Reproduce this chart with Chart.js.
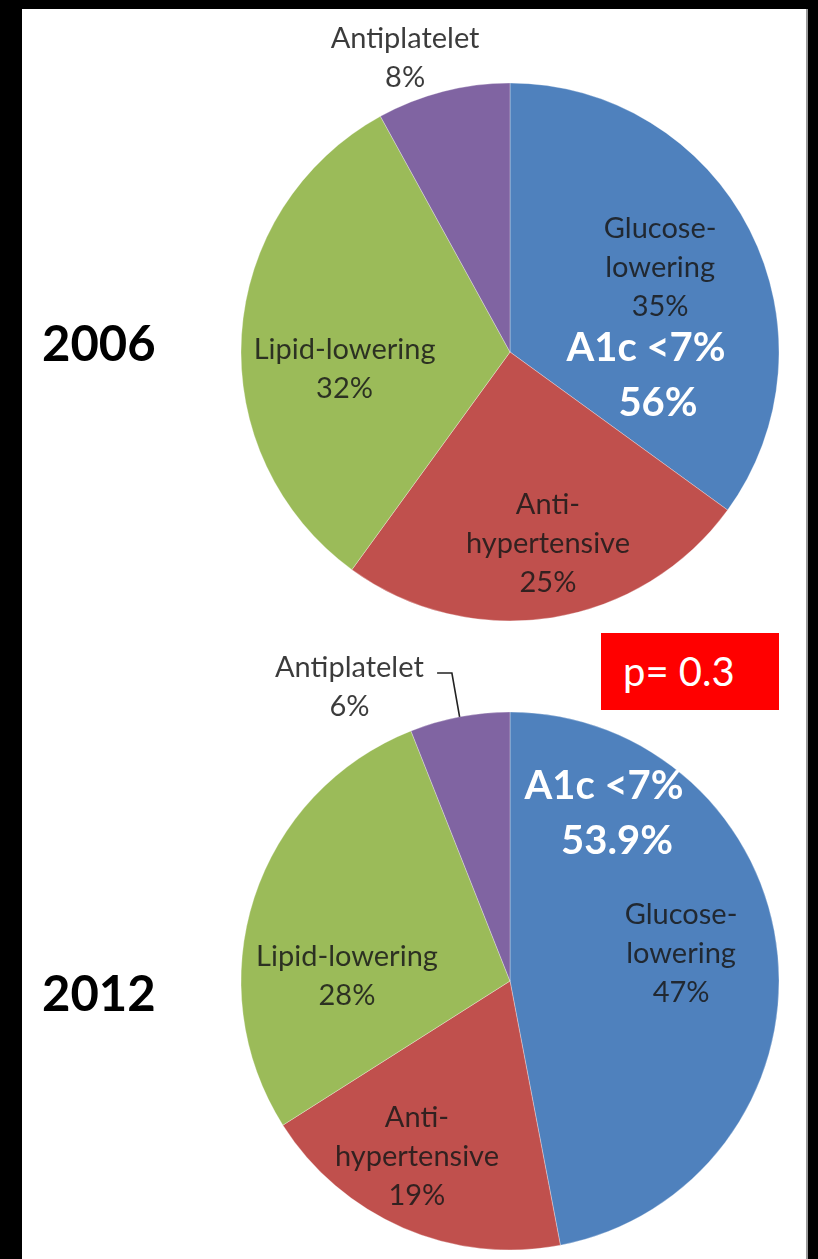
<!DOCTYPE html>
<html>
<head>
<meta charset="utf-8">
<script src="https://cdn.jsdelivr.net/npm/chart.js@4.4.0/dist/chart.umd.min.js"></script>
<style>
html,body{margin:0;padding:0;background:#000;width:818px;height:1259px;overflow:hidden;font-family:Lato,sans-serif}
#panel{position:absolute;left:22px;top:9px;width:784px;height:1250px;background:#fff;border-right:2px solid #9a9a9a}
canvas{position:absolute;left:0}
#c1{top:0}
#c2{top:630px}
.year{position:absolute;left:42px;font:bold 49px Lato;line-height:49px;color:#000;margin:0}
#pbox{position:absolute;left:601px;top:633px;width:178px;height:77px;background:#ff0000;color:#fff;font:40px Lato;line-height:77px;box-sizing:border-box;padding-left:22px;white-space:pre}
</style>
</head>
<body>
<div id="panel"></div>
<div class="year" id="y1" style="top:318px"></div>
<div class="year" id="y2" style="top:968px"></div>
<canvas id="c1" width="818" height="632"></canvas>
<canvas id="c2" width="818" height="629"></canvas>
<div id="pbox"></div>
<script>
// ---- data ----
const categories = ['Glucose-lowering', 'Anti-hypertensive', 'Lipid-lowering', 'Antiplatelet'];
const categoryLines = [['Glucose-', 'lowering'], ['Anti-', 'hypertensive'], ['Lipid-lowering'], ['Antiplatelet']];
const years = ['2006', '2012'];
const values2006 = [35, 25, 32, 8];
const values2012 = [47, 19, 28, 6];
const a1cTitle = 'A1c <7%';
const a1cValues = ['56%', '53.9%'];
const pValueText = 'p= 0.3';

// ---- styles / layout ----
const sliceColors = ['#4F81BD', '#C0504D', '#9BBB59', '#8064A2'];
const labelLayout = [
  [[0.558, -0.312], [0.141, 0.714], [-0.615, 0.063], [-0.390, -1.093]],
  [[0.636, -0.101], [-0.346, 0.652], [-0.606, -0.017], [-0.597, -1.091]]
];
const a1cLayout = [
  [[136, -4], [148, 51]],
  [[94, -195], [107, -140]]
];
const leaderLayout = [null, {index: 3, start: [-0.271, -1.145], elbow: [-0.216, -1.145]}];

document.getElementById('y1').textContent = years[0];
document.getElementById('y2').textContent = years[1];
document.getElementById('pbox').textContent = pValueText;

const labelPlugin = {
  id: 'sliceLabels',
  afterDatasetsDraw(chart, args, opts) {
    const ctx = chart.ctx;
    const meta = chart.getDatasetMeta(0);
    const vals = chart.data.datasets[0].data;
    let cx0 = 0, cy0 = 0;
    meta.data.forEach((arc, i) => {
      const p = arc.getProps(['x', 'y', 'outerRadius', 'startAngle', 'endAngle'], true);
      const r = p.outerRadius;
      cx0 = p.x; cy0 = p.y;
      const [fx, fy] = opts.layout[i];
      const cx = p.x + fx * r, cy = p.y + fy * r;
      const lines = categoryLines[i].concat([vals[i] + '%']);
      ctx.save();
      ctx.font = '29px Lato';
      ctx.fillStyle = 'rgba(25,25,25,0.85)';
      ctx.textAlign = 'center';
      ctx.textBaseline = 'middle';
      const lh = 39;
      lines.forEach((t, k) => ctx.fillText(t, cx, cy + (k - (lines.length - 1) / 2) * lh));
      ctx.restore();
      const ld = opts.leader;
      if (ld && ld.index === i) {
        const mid = (p.startAngle + p.endAngle) / 2;
        ctx.save();
        ctx.strokeStyle = '#222';
        ctx.lineWidth = 1.6;
        ctx.beginPath();
        ctx.moveTo(p.x + ld.start[0] * r, p.y + ld.start[1] * r);
        ctx.lineTo(p.x + ld.elbow[0] * r, p.y + ld.elbow[1] * r);
        ctx.lineTo(p.x + Math.cos(mid) * r, p.y + Math.sin(mid) * r);
        ctx.stroke();
        ctx.restore();
      }
    });
    // A1c annotation
    ctx.save();
    ctx.font = 'bold 40px Lato';
    ctx.fillStyle = '#fff';
    ctx.textAlign = 'center';
    ctx.textBaseline = 'middle';
    const a = opts.a1c;
    ctx.fillText(a1cTitle, cx0 + a[0][0], cy0 + a[0][1]);
    ctx.fillText(opts.a1cValue, cx0 + a[1][0], cy0 + a[1][1]);
    ctx.restore();
  }
};

function makePie(id, values, idx, padding) {
  return new Chart(document.getElementById(id), {
    type: 'pie',
    data: {
      labels: categories,
      datasets: [{
        data: values,
        backgroundColor: sliceColors,
        borderColor: 'rgba(255,255,255,0.3)',
        borderWidth: 1,
        hoverOffset: 0,
        offset: 0
      }]
    },
    options: {
      responsive: false,
      animation: false,
      events: [],
      radius: 269,
      layout: {padding: padding},
      plugins: {
        legend: {display: false},
        tooltip: {enabled: false},
        sliceLabels: {
          layout: labelLayout[idx],
          a1c: a1cLayout[idx],
          a1cValue: a1cValues[idx],
          leader: leaderLayout[idx]
        }
      }
    },
    plugins: [labelPlugin]
  });
}

makePie('c1', values2006, 0, {left: 202, right: 0, top: 74, bottom: 2});
makePie('c2', values2012, 1, {left: 202, right: 0, top: 74, bottom: 1});
</script>
</body>
</html>
